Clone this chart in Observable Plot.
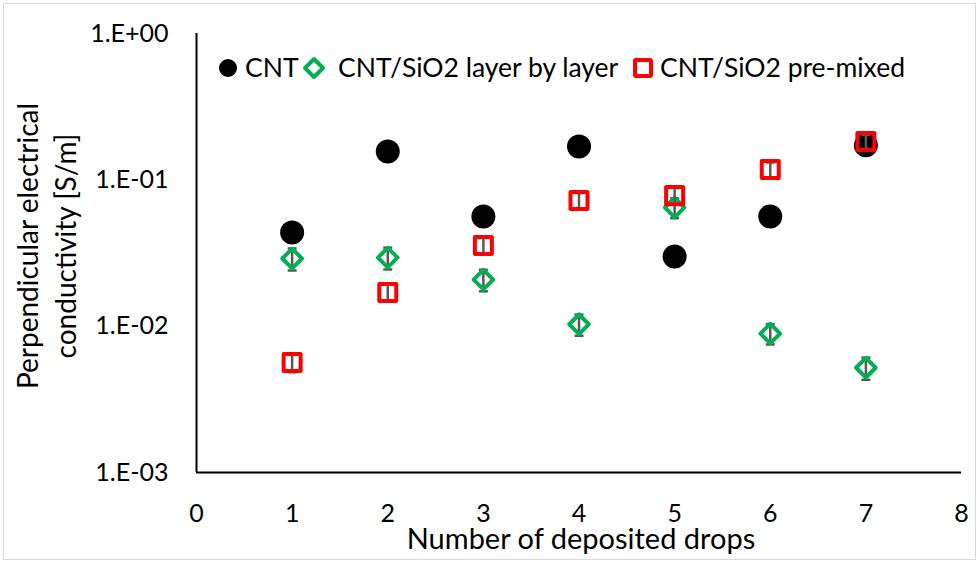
<!DOCTYPE html>
<html>
<head>
<meta charset="utf-8">
<script src="https://cdn.jsdelivr.net/npm/d3@7"></script>
<script src="https://cdn.jsdelivr.net/npm/@observablehq/plot@0.6"></script>
<style>
  html, body { margin: 0; padding: 0; background: #fff; }
  #wrap { position: relative; width: 979px; height: 562px; overflow: hidden; font-family: Lato, "Noto Sans", sans-serif; }
  #border { position: absolute; left: 3px; top: 3px; width: 971px; height: 555px; border: 1.5px solid #d9d9d9; pointer-events: none; }
  #legend { position: absolute; left: 0; top: 0; font-size: 26.5px; color: #000; }
  #legend .sym, #legend .lab { position: absolute; white-space: nowrap; }
  #legend svg { display: block; }
</style>
</head>
<body>
<div id="wrap">
  <div id="chart"></div>
  <div id="legend"></div>
  <div id="border"></div>
</div>
<script>
// ---- data ----
const drops = [1, 2, 3, 4, 5, 6, 7];
const cnt = [0.0436, 0.156, 0.0561, 0.169, 0.0299, 0.0561, 0.172];
const layerByLayer = [0.029, 0.0294, 0.0208, 0.0103, 0.0647, 0.0089, 0.0052];
const layerByLayerErr = [0.005, 0.005, 0.0035, 0.0017, 0.01, 0.0014, 0.0009];
const preMixed = [0.00564, 0.0170, 0.0356, 0.0722, 0.078, 0.1175, 0.183];
const preMixedErr = [0.0008, 0.0022, 0.0045, 0.009, 0.01, 0.014, 0.02];
const seriesNames = ["CNT", "CNT/SiO2 layer by layer", "CNT/SiO2 pre-mixed"];
const seriesColors = ["#000000", "#00b050", "#ff0000"];
const xTicks = [0, 1, 2, 3, 4, 5, 6, 7, 8];
const yTicks = [0.001, 0.01, 0.1, 1];
const xTitle = "Number of deposited drops";
const yTitle = "Perpendicular electrical\nconductivity [S/m]";

const rows = (vals, errs) => drops.map((d, i) => ({x: d, y: vals[i], lo: errs ? vals[i] - errs[i] : vals[i], hi: errs ? vals[i] + errs[i] : vals[i]}));
const cntRows = rows(cnt);
const lblRows = rows(layerByLayer, layerByLayerErr);
const pmRows = rows(preMixed, preMixedErr);

const cap = {draw(ctx) { ctx.moveTo(-4.5, 0); ctx.lineTo(4.5, 0); }};
const diamond = {draw(ctx, size) { const r = Math.sqrt(size / Math.PI); ctx.moveTo(0, -r); ctx.lineTo(r, 0); ctx.lineTo(0, r); ctx.lineTo(-r, 0); ctx.closePath(); }};
const fmt = v => { const e = Math.round(Math.log10(v)); return "1.E" + (e < 0 ? "-" : "+") + String(Math.abs(e)).padStart(2, "0"); };
const errMarks = (data) => [
  Plot.ruleX(data, {x: "x", y1: "lo", y2: "hi", stroke: "#595959", strokeWidth: 2.5}),
  Plot.dot(data, {x: "x", y: "lo", symbol: cap, stroke: "#595959", strokeWidth: 2.5, r: 4}),
  Plot.dot(data, {x: "x", y: "hi", symbol: cap, stroke: "#595959", strokeWidth: 2.5, r: 4})
];

const chart = Plot.plot({
  width: 979,
  height: 562,
  marginLeft: 196,
  marginRight: 18,
  marginTop: 33,
  marginBottom: 90,
  style: {fontFamily: "Lato, 'Noto Sans', sans-serif", fontSize: "25px", color: "#000", background: "transparent"},
  x: {domain: [0, 8]},
  y: {type: "log", domain: [0.001, 1]},
  marks: [
    Plot.axisX({ticks: xTicks, tickSize: 0, tickPadding: 32, label: null, fontSize: 25, tickFormat: d => String(d)}),
    Plot.axisY({ticks: yTicks, tickSize: 0, tickPadding: 28, label: null, fontSize: 25, tickFormat: fmt}),
    Plot.ruleX([0], {stroke: "#000", strokeWidth: 2}),
    Plot.ruleY([0.001], {stroke: "#000", strokeWidth: 2}),
    Plot.dot(cntRows, {x: "x", y: "y", r: 12, fill: seriesColors[0], stroke: "none"}),
    ...errMarks(lblRows),
    Plot.dot(lblRows, {x: "x", y: "y", symbol: diamond, r: 9.8, stroke: seriesColors[1], strokeWidth: 4, fill: "none", strokeLinejoin: "round"}),
    ...errMarks(pmRows),
    Plot.dot(pmRows, {x: "x", y: "y", symbol: "square", r: 9.6, stroke: seriesColors[2], strokeWidth: 4, fill: "none", strokeLinejoin: "round"}),
    Plot.text([xTitle], {frameAnchor: "bottom", dy: 76, dx: 2, fontSize: 29, fill: "#000"}),
    Plot.text([yTitle], {frameAnchor: "left", textAnchor: "middle", rotate: -90, dx: -152, dy: -7, fontSize: 28, lineHeight: 1.36, fill: "#000"})
  ]
});
document.getElementById("chart").appendChild(chart);

// legend overlay
const legend = document.getElementById("legend");
const symLeft = [216, 302, 631];
const labLeft = [245, 338, 660];
const symbolSvg = [
  '<svg width="24" height="24"><circle cx="12" cy="12" r="9" fill="#000"/></svg>',
  '<svg width="24" height="24"><path d="M12 3 L21 12 L12 21 L3 12 Z" fill="none" stroke="#00b050" stroke-width="4" stroke-linejoin="round"/></svg>',
  '<svg width="24" height="24"><rect x="4" y="4" width="16" height="16" rx="1" fill="none" stroke="#ff0000" stroke-width="4"/></svg>'
];
seriesNames.forEach((name, i) => {
  const s = document.createElement("div");
  s.className = "sym";
  s.style.left = symLeft[i] + "px";
  s.style.top = "56px";
  s.innerHTML = symbolSvg[i];
  legend.appendChild(s);
  const t = document.createElement("div");
  t.className = "lab";
  t.style.left = labLeft[i] + "px";
  t.style.top = "51px";
  t.style.lineHeight = "32px";
  t.textContent = name;
  legend.appendChild(t);
});
</script>
</body>
</html>
